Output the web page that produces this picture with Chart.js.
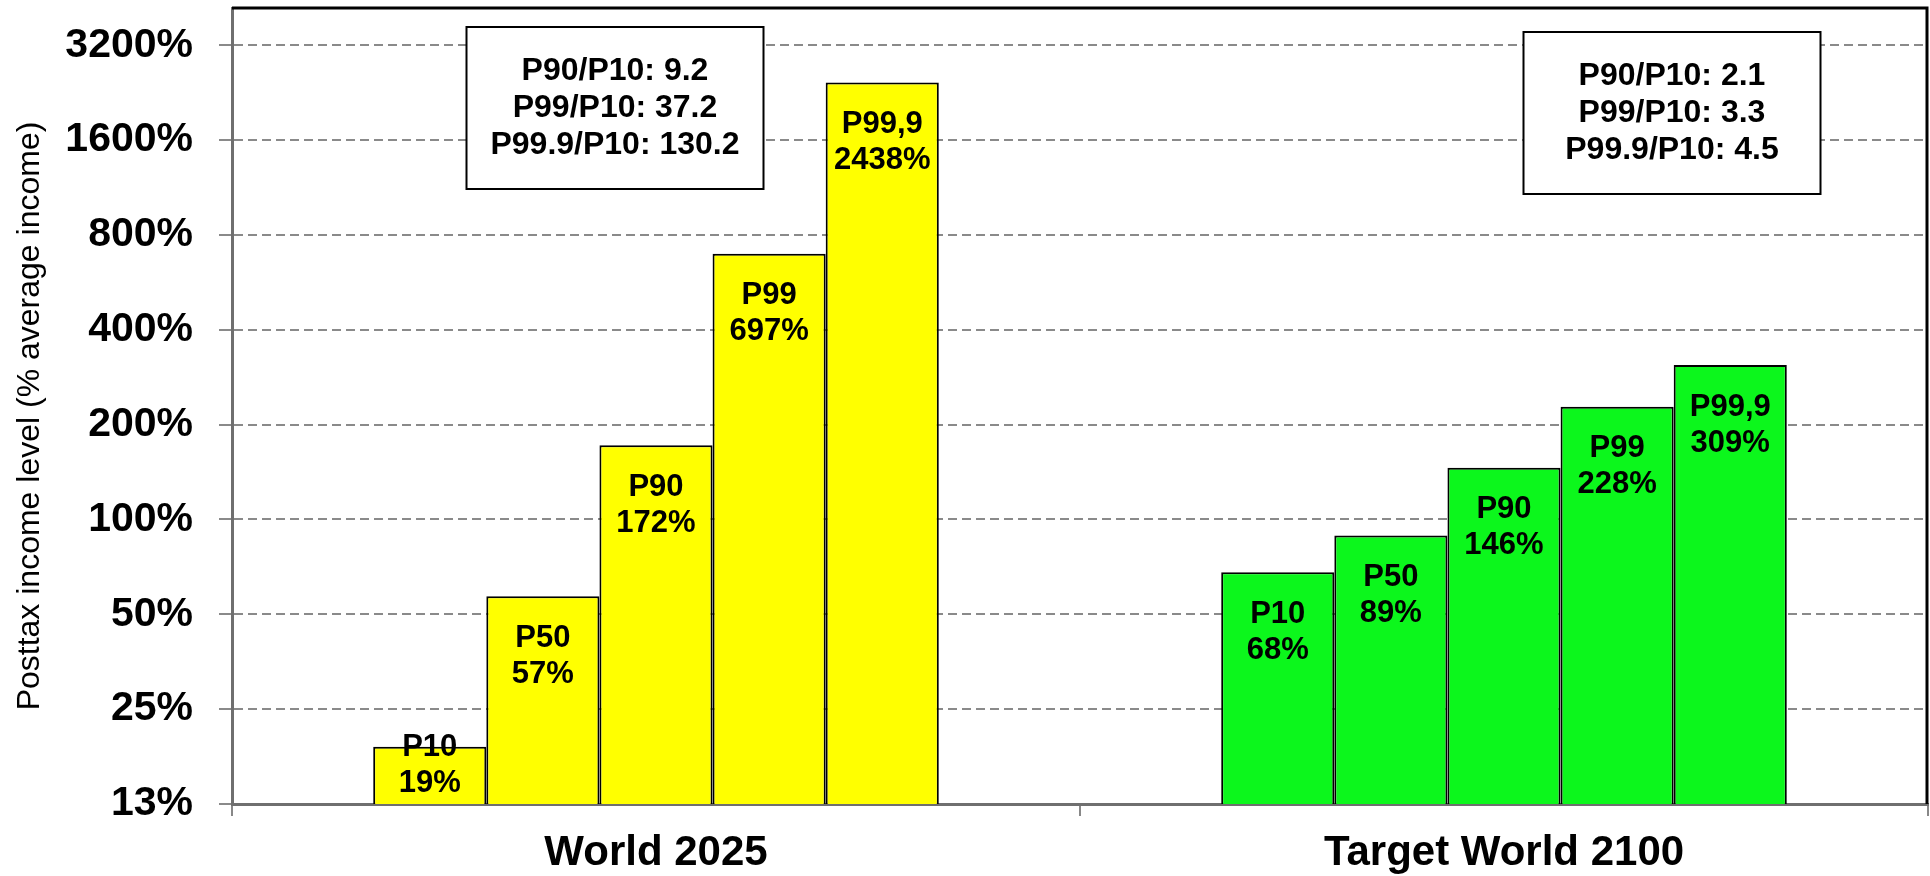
<!DOCTYPE html>
<html>
<head>
<meta charset="utf-8">
<script src="https://cdn.jsdelivr.net/npm/chart.js@4"></script>
<style>
  body { margin: 0; background: #fff; }
  #wrap { width: 1930px; height: 876px; }
</style>
</head>
<body>
<div id="wrap"><canvas id="incomeChart"></canvas></div>
<script>
// categories and percentile groups
const categories = ['World 2025', 'Target World 2100'];
const percentiles = ['P10', 'P50', 'P90', 'P99', 'P99,9'];

// posttax income level, % of average income (2025, 2100)
const p10 = [19, 68];
const p50 = [57, 89];
const p90 = [172, 146];
const p99 = [697, 228];
const p999 = [2438, 309];

// y axis (log, doubling steps)
const yTicks = [12.5, 25, 50, 100, 200, 400, 800, 1600, 3200];
const yMin = 12.5;
const yMax = 4200;
const yTitle = 'Posttax income level (% average income)';

// ratio boxes
const ratios2025 = ['P90/P10: 9.2', 'P99/P10: 37.2', 'P99.9/P10: 130.2'];
const ratios2100 = ['P90/P10: 2.1', 'P99/P10: 3.3', 'P99.9/P10: 4.5'];

const FONT = "'Liberation Sans', Arial, sans-serif";
const barColors = ['#ffff00', '#0cf71c'];

const series = [p10, p50, p90, p99, p999];

// labels inside the bars: name + value
const barLabels = {
  id: 'barLabels',
  afterDatasetsDraw(chart) {
    const ctx = chart.ctx;
    ctx.save();
    ctx.font = 'bold 31px ' + FONT;
    ctx.fillStyle = '#000';
    ctx.textAlign = 'center';
    ctx.textBaseline = 'middle';
    chart.data.datasets.forEach((ds, i) => {
      chart.getDatasetMeta(i).data.forEach((bar, j) => {
        const top = bar.y;
        const bottom = bar.base;
        let y1 = Math.min(top + 42, bottom - 21 - 36);
        ctx.fillText(ds.label, bar.x, y1);
        ctx.fillText(ds.data[j] + '%', bar.x, y1 + 36);
      });
    });
    ctx.restore();
  }
};

// ratio text boxes, y title, top/right frame
const boxes = {
  id: 'boxes',
  afterDatasetsDraw(chart) {
    const ctx = chart.ctx;
    const x = chart.scales.x;
    const a = chart.chartArea;
    const drawBox = (cx, top, lines) => {
      const w = 297, h = 162;
      ctx.save();
      ctx.fillStyle = '#fff';
      ctx.fillRect(cx - w / 2, top, w, h);
      ctx.strokeStyle = '#000';
      ctx.lineWidth = 2;
      ctx.strokeRect(cx - w / 2, top, w, h);
      ctx.font = 'bold 32px ' + FONT;
      ctx.fillStyle = '#000';
      ctx.textAlign = 'center';
      ctx.textBaseline = 'middle';
      lines.forEach((t, k) => ctx.fillText(t, cx, top + h / 2 + (k - 1) * 37));
      ctx.restore();
    };
    drawBox(x.getPixelForValue(0) - 41, a.top + 19, ratios2025);
    drawBox(x.getPixelForValue(1) + 168, a.top + 24, ratios2100);
  },
  afterDraw(chart) {
    const ctx = chart.ctx;
    const a = chart.chartArea;
    ctx.save();
    ctx.strokeStyle = '#000';
    ctx.lineWidth = 3;
    ctx.beginPath();
    ctx.moveTo(a.left, a.top);
    ctx.lineTo(a.right - 1, a.top);
    ctx.lineTo(a.right - 1, a.bottom);
    ctx.stroke();

    // y axis title
    ctx.translate(30, (a.top + a.bottom) / 2 + 10);
    ctx.rotate(-Math.PI / 2);
    ctx.font = '32px ' + FONT;
    ctx.fillStyle = '#000';
    ctx.textAlign = 'center';
    ctx.textBaseline = 'middle';
    ctx.fillText(yTitle, 0, 0);
    ctx.restore();
  }
};

new Chart(document.getElementById('incomeChart'), {
  type: 'bar',
  data: {
    labels: categories,
    datasets: percentiles.map((name, i) => ({
      label: name,
      data: series[i],
      backgroundColor: barColors,
      borderColor: '#000',
      borderWidth: 2,
      barPercentage: 1,
      categoryPercentage: 0.667
    }))
  },
  options: {
    responsive: true,
    maintainAspectRatio: false,
    animation: false,
    layout: { padding: { top: 8, right: 2, bottom: 0, left: 0 } },
    plugins: {
      legend: { display: false },
      tooltip: { enabled: false }
    },
    scales: {
      x: {
        afterFit(scale) {
          scale.height = 72;
          scale.paddingLeft = 0;
          scale.paddingRight = 0;
        },
        grid: {
          display: true,
          drawOnChartArea: false,
          drawTicks: true,
          tickLength: 12,
          offset: true,
          color: '#888',
          lineWidth: 2
        },
        border: { display: true, color: '#6f6f6f', width: 3 },
        ticks: {
          padding: 12,
          color: '#000',
          font: { family: FONT, size: 42, weight: 'bold' }
        }
      },
      y: {
        type: 'logarithmic',
        min: yMin,
        max: yMax,
        afterBuildTicks(scale) {
          scale.ticks = yTicks.map(v => ({ value: v, major: true }));
        },
        afterFit(scale) {
          scale.width = 232;
          scale.paddingTop = 0;
          scale.paddingBottom = 0;
        },
        grid: {
          color: '#8a8a8a',
          lineWidth: 2,
          tickBorderDash: [],
          tickColor: '#8a8a8a',
          tickLength: 13
        },
        border: { display: true, color: '#6f6f6f', width: 3, dash: [9, 5] },
        ticks: {
          padding: 26,
          color: '#000',
          font: { family: FONT, size: 41, weight: 'bold' },
          callback: v => Math.round(v) + '%'
        }
      }
    }
  },
  plugins: [barLabels, boxes]
});
</script>
</body>
</html>
